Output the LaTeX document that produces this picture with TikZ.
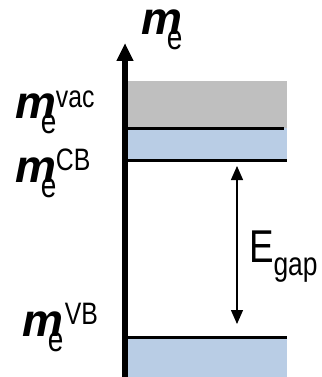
\documentclass[tikz,border=0pt]{standalone}
\usepackage{fontspec}
\setmainfont{Liberation Sans}
\newfontfamily\narrowfont[FakeStretch=0.8]{Liberation Sans}
\usetikzlibrary{arrows.meta, positioning}

\definecolor{vacgray}{HTML}{BFBFBF}
\definecolor{bandblue}{HTML}{B9CDE5}

\begin{document}
\begin{tikzpicture}[x=1pt, y=-1pt,
    every node/.style={inner sep=0pt, outer sep=0pt},
    mlab/.style={font=\fontsize{46}{46}\selectfont\bfseries\itshape, anchor=base west},
    elab/.style={font=\narrowfont\fontsize{35}{35}\selectfont, anchor=base west},
    suplab/.style={font=\narrowfont\fontsize{31}{31}\selectfont, anchor=base west},
    band/.style={line width=3pt},
    axis/.style={line width=6pt, -{Triangle[length=18pt, width=16pt]}},
    gaparr/.style={line width=1.3pt, {Triangle[length=14pt, width=12pt]}-{Triangle[length=14pt, width=12pt]}}
]
\useasboundingbox (0,0) rectangle (321,377);
% bands
\fill[vacgray] (128,81) rectangle (287,128);
\fill[bandblue] (128,128) rectangle (287,160);
\fill[bandblue] (128,337) rectangle (287,377);
\draw[band] (128,128) -- (284,128);
\draw[band] (128,160) -- (287,160);
\draw[band] (128,337) -- (287,337);
% axis
\coordinate (axbot) at (125,377);
\coordinate (axtop) at (125,43);
\draw[axis] (axbot) -- (axtop);
\node[mlab] (mtop) at (141,35) {m};
\node[elab] (etop) at ([xshift=-15pt, yshift=-15pt]mtop.base east) {e};
% levels
\node[mlab] (mvac) at (15,118) {m};
\node[elab] (evac) at ([xshift=-15pt, yshift=-15pt]mvac.base east) {e};
\node[suplab] (tvac) at ([xshift=0pt, yshift=10pt]mvac.base east) {vac};
\node[mlab] (mcb) at (15,182) {m};
\node[elab] (ecb) at ([xshift=-15pt, yshift=-15pt]mcb.base east) {e};
\node[suplab] (tcb) at ([xshift=0pt, yshift=12pt]mcb.base east) {CB};
\node[mlab] (mvb) at (22,336) {m};
\node[elab] (evb) at ([xshift=-15pt, yshift=-15pt]mvb.base east) {e};
\node[suplab] (tvb) at ([xshift=2pt, yshift=12pt]mvb.base east) {VB};
% gap
\coordinate (gtop) at (237,166);
\coordinate (gbot) at (237,324);
\draw[gaparr] (gtop) -- (gbot);
\node[font=\narrowfont\fontsize{46}{46}\selectfont, anchor=base west] (egap) at (249,262) {E};
\node[font=\narrowfont\fontsize{33}{33}\selectfont, anchor=base west] (tgap) at ([yshift=-13pt]egap.base east) {gap};
\end{tikzpicture}
\end{document}
